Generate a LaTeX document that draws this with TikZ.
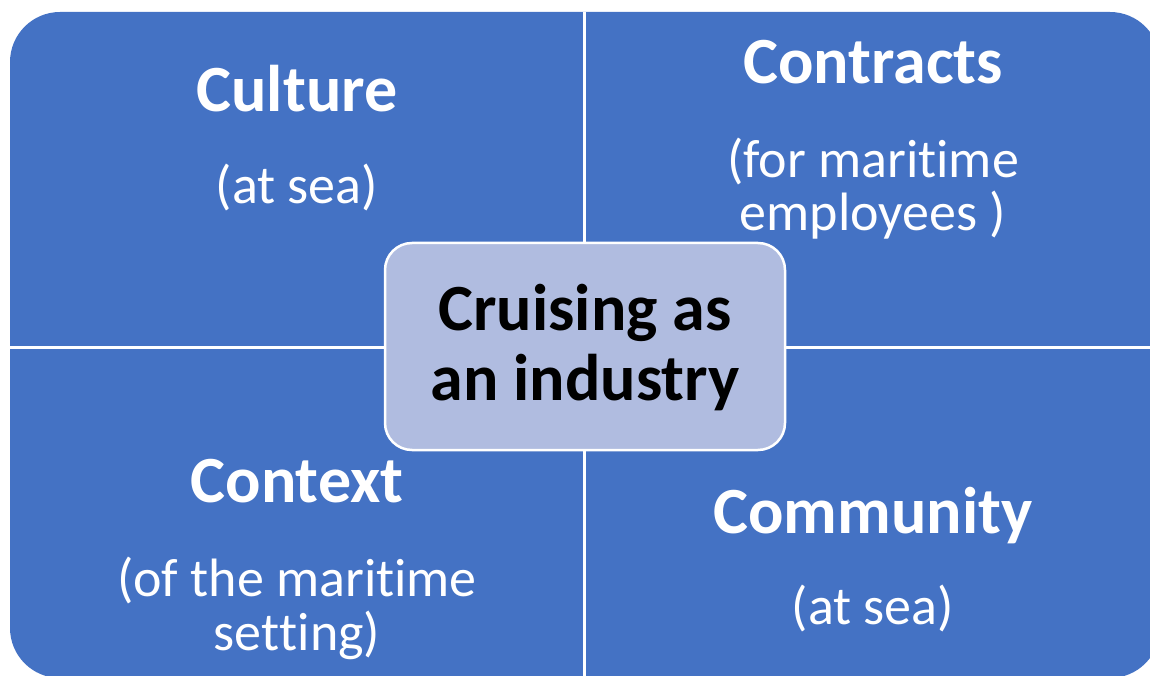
\documentclass[tikz,border=0pt]{standalone}
\usepackage{fontspec}
\setmainfont{Carlito}[Ligatures={NoCommon,NoContextual},RawFeature={-liga,-clig,-calt}]
\definecolor{quadblue}{RGB}{68,114,196}
\definecolor{hubfill}{RGB}{176,188,224}
% zero kern splits the shaping run so "t"+"i"/"t" stay separate glyphs
\newcommand{\nolig}{\kern0pt{}}
\begin{document}
\begin{tikzpicture}[x=1pt,y=-1pt,
  title/.style={text=white,font=\fontsize{66}{66}\selectfont\bfseries,anchor=base,inner sep=0pt},
  subtitle/.style={text=white,font=\fontsize{54}{54}\selectfont,anchor=base,inner sep=0pt},
  hubtext/.style={text=black,font=\fontsize{66}{66}\selectfont\bfseries,anchor=base,inner sep=0pt},
  hub/.style={draw=white,line width=2.5pt,fill=hubfill,rounded corners=27pt,
    minimum width=400pt,minimum height=207pt,inner sep=0pt},
  divider/.style={draw=white,line width=3pt}]
\useasboundingbox (0,0) rectangle (1150,676);
% outer rounded field, split into four quadrants by white dividers
\fill[quadblue,rounded corners=50pt] (10,12) rectangle (1160,678);
\coordinate (vtop) at (584.7,12);
\coordinate (vbot) at (584.7,678);
\coordinate (hleft) at (10,347);
\coordinate (hright) at (1160,347);
\draw[divider] (vtop) -- (vbot);
\draw[divider] (hleft) -- (hright);
% quadrant labels
\node[title] (culture) at (297,111.7) {Culture};
\node[subtitle] (culturesub) at (297,204) {(at sea)};
\node[title] (contracts) at (873,83.3) {Contracts};
\node[subtitle] (contractsa) at (873,178) {(for marit\nolig ime};
\node[subtitle] (contractsb) at (873,230.7) {employees )};
\node[title] (context) at (297,502.7) {Context};
\node[subtitle] (contexta) at (297,596.7) {(of the marit\nolig ime};
\node[subtitle] (contextb) at (297,650) {set\nolig t\nolig ing)};
\node[title] (community) at (873,533.3) {Community};
\node[subtitle] (communitysub) at (873,624) {(at sea)};
% central hub
\node[hub] (hubbox) at (585,346.5) {};
\node[hubtext] (huba) at (585,330) {Cruising as};
\node[hubtext] (hubb) at (585,400) {an industry};
\end{tikzpicture}
\end{document}
